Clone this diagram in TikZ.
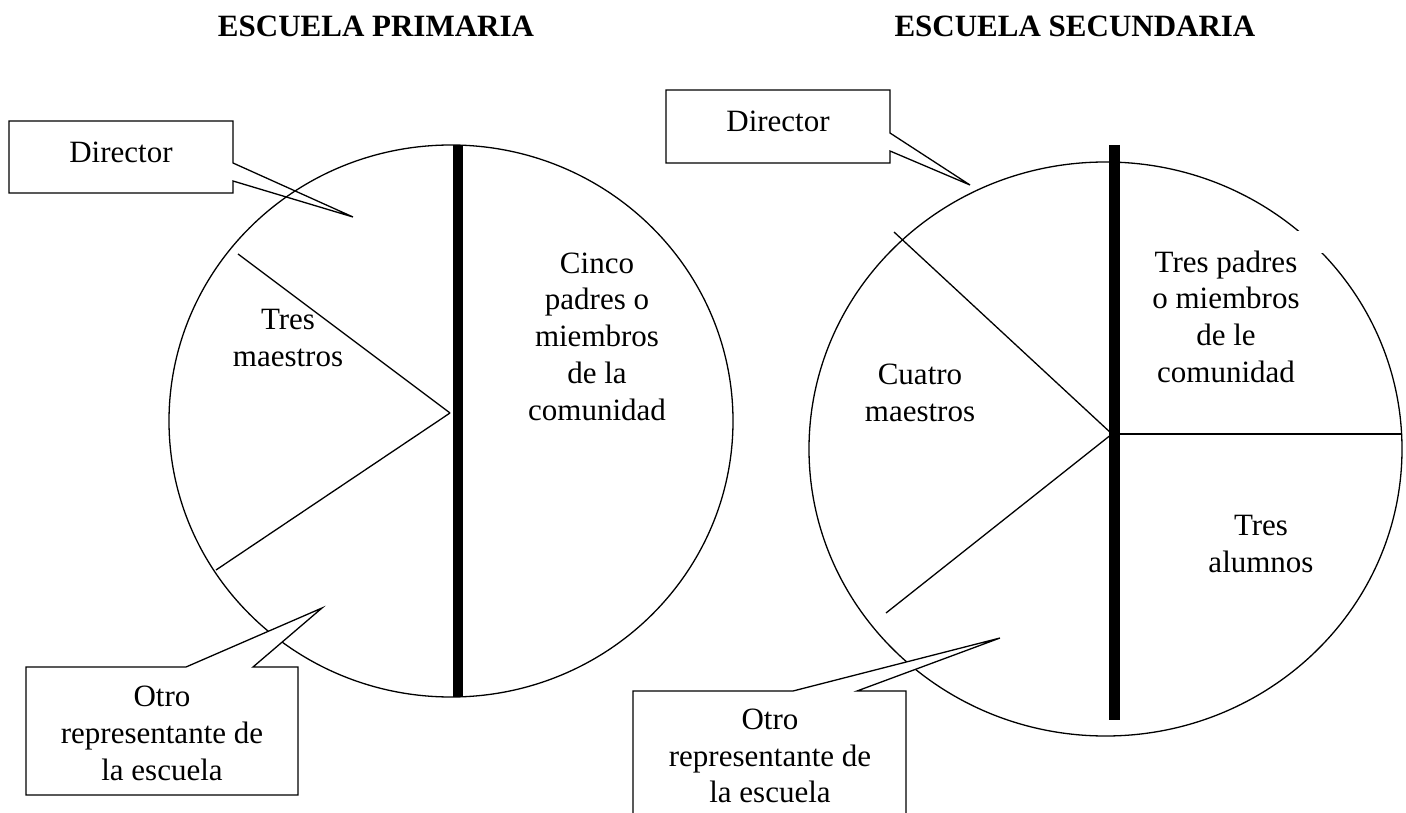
\documentclass[tikz,border=0pt]{standalone}
\usepackage{fontspec}
\setmainfont{Liberation Serif}
\begin{document}
\begin{tikzpicture}[x=1pt,y=-1pt,
  thin line/.style={line width=1.3pt,line cap=butt},
  bar/.style={line width=10.5pt,line cap=butt},
  lbl/.style={align=center,inner sep=0pt,font=\fontsize{31}{36.7}\selectfont},
  ttl/.style={inner sep=0pt,anchor=base,font=\fontsize{31}{36}\selectfont\bfseries},
  callout/.style={line width=1.3pt,line join=miter}]
\useasboundingbox (0,0) rectangle (1406,813);
\clip (0,0) rectangle (1406,813);
% titles
\node[ttl] (t1) at (376,37) {ESCUELA PRIMARIA};
\node[ttl] (t2) at (1075,37) {ESCUELA SECUNDARIA};
% left pie
\draw[thin line] (451,421) ellipse [x radius=282, y radius=276];
\coordinate (cL) at (450,413);
\coordinate (l1) at (238,254);
\coordinate (l2) at (216,570);
\draw[thin line] (cL) -- (l1);
\draw[thin line] (cL) -- (l2);
\coordinate (bLt) at (458,145);
\coordinate (bLb) at (458,697);
\draw[bar] (bLt) -- (bLb);
% right pie
\draw[thin line] (1105.5,449) ellipse [x radius=296.5, y radius=287];
\coordinate (cR) at (1112,434);
\coordinate (r1) at (894,232);
\coordinate (r2) at (886,613);
\coordinate (r3) at (1402,434);
\draw[thin line] (cR) -- (r1);
\draw[thin line] (cR) -- (r2);
\draw[thin line] (cR) -- (r3);
\coordinate (bRt) at (1114,145);
\coordinate (bRb) at (1114,720);
\draw[bar,line width=11pt] (bRt) -- (bRb);
\fill[white] (1290,231) rectangle (1324,253);
% sector labels
\node[lbl] (tresm) at (288,338) {Tres\\maestros};
\node[lbl] (cinco) at (597,336.5) {Cinco\\padres o\\miembros\\de la\\comunidad};
\node[lbl] (tresp) at (1226,316.5) {Tres padres\\o miembros\\de le\\comunidad};
\node[lbl] (cuatro) at (920,393) {Cuatro\\maestros};
\node[lbl] (tresa) at (1261,544) {Tres\\alumnos};
% callouts
\draw[callout] (9,121) -- (233,121) -- (233,163) -- (353,217) -- (233,181) -- (233,193) -- (9,193) -- cycle;
\node[lbl] (dirL) at (121,152.5) {Director};
\filldraw[callout,fill=white] (26,667) -- (186,667) -- (322,608) -- (253,667) -- (298,667) -- (298,795) -- (26,795) -- cycle;
\node[lbl] (otroL) at (162,733.5) {Otro\\representante de\\la escuela};
\draw[callout] (666,90) -- (890,90) -- (890,133) -- (970,185) -- (890,151) -- (890,163) -- (666,163) -- cycle;
\node[lbl] (dirR) at (778,121.5) {Director};
\filldraw[callout,fill=white] (633,840) -- (633,691) -- (793,691) -- (1000,638) -- (857,691) -- (906,691) -- (906,840);
\node[lbl] (otroR) at (770,756) {Otro\\representante de\\la escuela};
\end{tikzpicture}
\end{document}
